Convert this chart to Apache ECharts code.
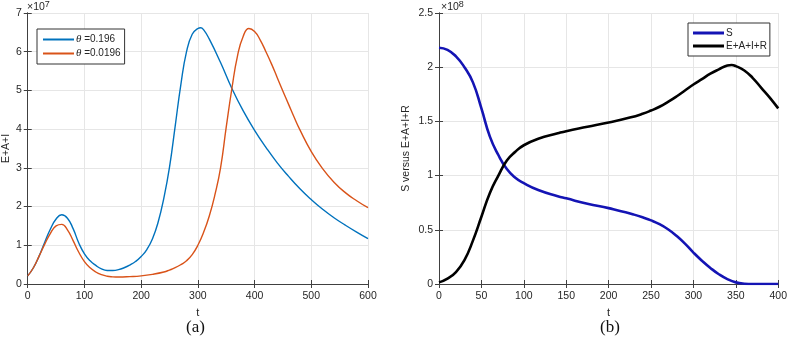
<!DOCTYPE html>
<html>
<head>
<meta charset="utf-8">
<script src="https://cdn.jsdelivr.net/npm/echarts@6/dist/echarts.min.js"></script>
<style>
  html, body { margin: 0; padding: 0; background: #fff; }
  #chart { width: 790px; height: 338px; }
</style>
</head>
<body>
<div id="chart"></div>
<script>
// panel (a): E+A+I in units of 1e7
const tBlue = [0, 10, 20, 30, 40, 50, 60, 70, 80, 90, 100, 110, 120, 130, 140, 150, 160, 170, 180, 190, 200, 210, 220, 230, 240, 250, 260, 270, 280, 290, 300, 305, 310, 320, 340, 360, 380, 400, 420, 440, 460, 480, 500, 520, 540, 560, 580, 600]
const vBlue = [0.21, 0.42, 0.72, 1.08, 1.42, 1.68, 1.79, 1.70, 1.43, 1.06, 0.78, 0.60, 0.48, 0.39, 0.35, 0.35, 0.37, 0.42, 0.49, 0.58, 0.71, 0.89, 1.17, 1.60, 2.22, 3.02, 4.08, 5.15, 6.00, 6.45, 6.60, 6.62, 6.57, 6.33, 5.72, 5.05, 4.47, 3.97, 3.53, 3.13, 2.78, 2.46, 2.18, 1.93, 1.71, 1.52, 1.34, 1.17]
const tOrange = [0, 10, 20, 30, 40, 50, 60, 70, 80, 90, 100, 110, 120, 130, 140, 150, 160, 180, 200, 220, 240, 250, 260, 270, 280, 290, 300, 310, 320, 330, 340, 350, 360, 370, 380, 390, 400, 410, 420, 430, 440, 450, 460, 470, 480, 500, 520, 540, 560, 580, 600]
const vOrange = [0.21, 0.42, 0.72, 1.03, 1.31, 1.50, 1.54, 1.40, 1.12, 0.82, 0.58, 0.42, 0.31, 0.24, 0.20, 0.185, 0.18, 0.19, 0.21, 0.25, 0.31, 0.36, 0.42, 0.50, 0.60, 0.76, 1.00, 1.33, 1.75, 2.30, 3.00, 4.05, 5.05, 5.90, 6.40, 6.60, 6.52, 6.30, 6.00, 5.68, 5.33, 4.98, 4.64, 4.30, 3.98, 3.42, 2.98, 2.63, 2.36, 2.15, 1.97]

// panel (b): in units of 1e8
const tS = [0, 10, 20, 30, 40, 50, 60, 70, 80, 90, 100, 117, 140, 150, 175, 200, 210, 220, 230, 240, 250, 260, 270, 280, 290, 300, 310, 320, 330, 340, 350, 360, 370, 380, 400]
const vS = [2.18, 2.16, 2.10, 2.00, 1.86, 1.62, 1.36, 1.19, 1.06, 0.98, 0.93, 0.867, 0.81, 0.79, 0.74, 0.70, 0.68, 0.662, 0.64, 0.615, 0.587, 0.552, 0.505, 0.445, 0.372, 0.29, 0.215, 0.148, 0.09, 0.045, 0.015, 0.003, 0, 0, 0]
const tR = [0, 10, 20, 30, 40, 50, 60, 70, 80, 90, 100, 117, 140, 150, 175, 200, 225, 240, 250, 260, 270, 280, 290, 300, 310, 320, 330, 340, 345, 350, 360, 370, 380, 390, 400]
const vR = [0.015, 0.05, 0.11, 0.22, 0.40, 0.62, 0.84, 1.00, 1.14, 1.22, 1.28, 1.34, 1.39, 1.41, 1.45, 1.49, 1.535, 1.57, 1.60, 1.635, 1.68, 1.73, 1.785, 1.84, 1.89, 1.94, 1.98, 2.015, 2.02, 2.01, 1.97, 1.90, 1.81, 1.72, 1.62]

const ticksA = { x: [0, 600, 100], y: [0, 7, 1] }
const ticksB = { x: [0, 400, 50], y: [0, 2.5, 0.5] }

const pair = (ts, vs) => ts.map((t, i) => [t, vs[i]])

const FONT = 'Liberation Sans, Arial, sans-serif'
const FS = 10
const axisColor = '#404040'
const labelColor = '#262626'

function xAxes(gridIndex, [min, max, interval], name) {
  return [
    {
      type: 'value', gridIndex, min, max, interval, position: 'bottom',
      name, nameLocation: 'middle', nameGap: 23,
      nameTextStyle: { color: labelColor, fontFamily: FONT, fontSize: FS + 1 },
      axisLine: { lineStyle: { color: axisColor, width: 1 } },
      axisTick: { inside: true, length: 4, lineStyle: { color: axisColor } },
      axisLabel: { color: labelColor, fontFamily: FONT, fontSize: FS + 0.5, margin: 7 },
      splitLine: { show: true, lineStyle: { color: '#e6e6e6' } }
    },
    {
      type: 'value', gridIndex, min, max, interval, position: 'top',
      axisLine: { lineStyle: { color: axisColor, width: 1 } },
      axisTick: { inside: true, length: 4, lineStyle: { color: axisColor } },
      axisLabel: { show: false },
      splitLine: { show: false }
    }
  ]
}

function yAxes(gridIndex, [min, max, interval], name, nameGap) {
  return [
    {
      type: 'value', gridIndex, min, max, interval, position: 'left',
      name, nameLocation: 'middle', nameGap,
      nameTextStyle: { color: labelColor, fontFamily: FONT, fontSize: FS + 0.5 },
      axisLine: { show: true, lineStyle: { color: axisColor, width: 1 } },
      axisTick: { show: true, inside: true, length: 4, lineStyle: { color: axisColor } },
      axisLabel: { color: labelColor, fontFamily: FONT, fontSize: FS + 0.5, margin: 6 },
      splitLine: { show: true, lineStyle: { color: '#e6e6e6' } }
    },
    {
      type: 'value', gridIndex, min, max, interval, position: 'right',
      axisLine: { show: true, lineStyle: { color: axisColor, width: 1 } },
      axisTick: { show: true, inside: true, length: 4, lineStyle: { color: axisColor } },
      axisLabel: { show: false },
      splitLine: { show: false }
    }
  ]
}

const chart = echarts.init(document.getElementById('chart'))

const legendBase = {
  orient: 'vertical',
  icon: 'rect',
  itemWidth: 31,
  itemGap: 3,
  borderColor: '#333',
  borderWidth: 1,
  backgroundColor: '#fff',
  borderRadius: 0,
  textStyle: { color: labelColor, fontFamily: FONT, fontSize: FS, padding: [0, 0, 0, -3] }
}

const lineBase = { type: 'line', showSymbol: false, smooth: 0.5 }

chart.setOption({
  animation: false,
  grid: [
    { left: 25, right: 422, top: 13, bottom: 54 },
    { left: 439, right: 8, top: 13, bottom: 54 }
  ],
  xAxis: [...xAxes(0, ticksA.x, 't'), ...xAxes(1, ticksB.x, 't')],
  yAxis: [...yAxes(0, ticksA.y, 'E+A+I', 14), ...yAxes(1, ticksB.y, 'S versus E+A+I+R', 27)],
  legend: [
    {
      ...legendBase,
      left: 37, top: 29,
      padding: [5, 4, 5, 6],
      itemHeight: 2,
      data: ['θ =0.196', 'θ =0.0196'],
      formatter: (n) => n.replace('θ', '{it|θ}'),
      textStyle: {
        ...legendBase.textStyle,
        rich: { it: { fontStyle: 'italic', fontFamily: 'Liberation Serif, serif', fontSize: FS + 1 } }
      }
    },
    {
      ...legendBase,
      left: 688, top: 23,
      padding: [5, 3, 5, 5],
      itemHeight: 3,
      data: ['S', 'E+A+I+R']
    }
  ],
  graphic: [
    {
      type: 'text', left: 27, top: 0,
      style: {
        text: '×10{s|7}',
        rich: { s: { fontSize: 9, verticalAlign: 'top', padding: [0, 0, 6, 0] } },
        fontFamily: FONT, fontSize: FS + 0.5, fill: labelColor
      }
    },
    {
      type: 'text', left: 441, top: 0,
      style: {
        text: '×10{s|8}',
        rich: { s: { fontSize: 9, verticalAlign: 'top', padding: [0, 0, 6, 0] } },
        fontFamily: FONT, fontSize: FS + 0.5, fill: labelColor
      }
    },
    {
      type: 'text', left: 186, top: 319,
      style: { text: '(a)', fontFamily: 'Liberation Serif, serif', fontSize: 17, fill: '#111' }
    },
    {
      type: 'text', left: 600, top: 319,
      style: { text: '(b)', fontFamily: 'Liberation Serif, serif', fontSize: 17, fill: '#111' }
    }
  ],
  series: [
    {
      ...lineBase, name: 'θ =0.196', xAxisIndex: 0, yAxisIndex: 0,
      data: pair(tBlue, vBlue),
      lineStyle: { color: '#0072BD', width: 1.4 }, itemStyle: { color: '#0072BD' }
    },
    {
      ...lineBase, name: 'θ =0.0196', xAxisIndex: 0, yAxisIndex: 0,
      data: pair(tOrange, vOrange),
      lineStyle: { color: '#D95319', width: 1.4 }, itemStyle: { color: '#D95319' }
    },
    {
      ...lineBase, name: 'S', xAxisIndex: 2, yAxisIndex: 2,
      data: pair(tS, vS),
      lineStyle: { color: '#1414b4', width: 2.6 }, itemStyle: { color: '#1414b4' }
    },
    {
      ...lineBase, name: 'E+A+I+R', xAxisIndex: 2, yAxisIndex: 2,
      data: pair(tR, vR),
      lineStyle: { color: '#000', width: 2.6 }, itemStyle: { color: '#000' }
    }
  ]
})
</script>
</body>
</html>
